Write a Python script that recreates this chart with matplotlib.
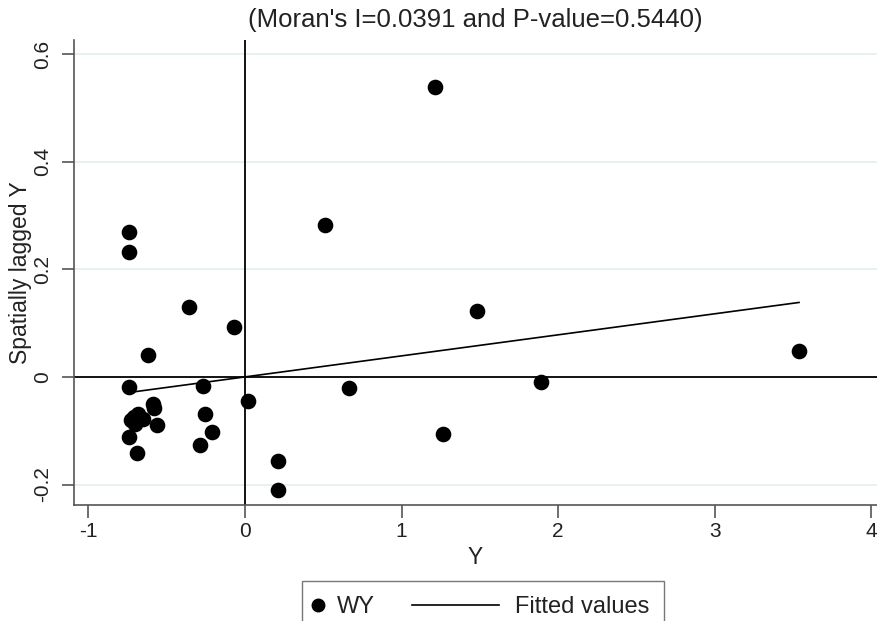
import matplotlib
matplotlib.use("Agg")
import matplotlib.pyplot as plt
from matplotlib.lines import Line2D
from matplotlib.legend_handler import HandlerBase
import numpy as np

plt.rcParams['font.family'] = ['Liberation Sans', 'DejaVu Sans']

# Moran scatterplot data (standardised Y and spatially lagged Y)
y_vals = [-0.356, -0.072, -0.619, -0.739, -0.266, 0.021, 0.666, -0.589,
          -0.581, -0.681, -0.730, -0.702, -0.649, -0.564, -0.253, -0.213,
          -0.739, -0.285, -0.687, 0.209, 0.209, 1.264, -0.739, -0.739,
          0.513, 1.213, 1.484, 1.888, 3.538, -0.712]
wy_vals = [0.129, 0.092, 0.041, -0.019, -0.017, -0.044, -0.021, -0.051,
           -0.058, -0.068, -0.080, -0.087, -0.078, -0.090, -0.068, -0.103,
           -0.111, -0.126, -0.142, -0.157, -0.210, -0.106, 0.269, 0.233,
           0.283, 0.538, 0.123, -0.010, 0.049, -0.074]
moran_i = 0.0391
p_value = 0.5440

x_ticks = [-1, 0, 1, 2, 3, 4]
y_ticks = [-0.2, 0, 0.2, 0.4, 0.6]
y_tick_labels = ['-0.2', '0', '0.2', '0.4', '0.6']


class DotHandler(HandlerBase):
    # legend key: dot sitting near the text
    def create_artists(self, legend, orig_handle, xdescent, ydescent,
                       width, height, fontsize, trans):
        y = height / 2 - ydescent
        dot = Line2D([-xdescent + 0.5], [y], marker='o', ms=9,
                     color='black', ls='none')
        dot.set_transform(trans)
        return [dot]


class LongLineHandler(HandlerBase):
    # legend key: long line reaching to the left of its handle box
    def create_artists(self, legend, orig_handle, xdescent, ydescent,
                       width, height, fontsize, trans):
        y = height / 2 - ydescent
        line = Line2D([-xdescent + width - 62.6, -xdescent + width], [y, y],
                      color='black', lw=1.2)
        line.set_transform(trans)
        return [line]


x = np.array(y_vals)
wy = np.array(wy_vals)
# fitted line: slope equals Moran's I
x_fit = np.array([x.min(), x.max()])
y_fit = moran_i * x_fit

fig = plt.figure(figsize=(8.77, 6.21), dpi=100)
ax = fig.add_axes([74 / 877, 116 / 621, 803 / 877, 465 / 621])

for t in y_ticks:
    if t != 0:
        ax.axhline(t, color='#e6eff1', lw=1.3, zorder=0)
ax.axhline(0, color='black', lw=1.3, zorder=1)
ax.axvline(0, color='black', lw=1.3, zorder=1)

sc = ax.scatter(x, wy, s=105, color='black', zorder=3, label='WY')
ln, = ax.plot(x_fit, y_fit, color='black', lw=1.2, zorder=2, label='Fitted values')

ax.set_xlim(-1.092, 4.036)
ax.set_ylim(-0.238, 0.626)
ax.set_xticks(x_ticks)
ax.set_yticks(y_ticks)
ax.set_xticklabels([str(v) for v in x_ticks])
ax.set_yticklabels(y_tick_labels, rotation=90, va='center')

for side in ['top', 'right']:
    ax.spines[side].set_visible(False)
for side in ['left', 'bottom']:
    ax.spines[side].set_color('#555555')
    ax.spines[side].set_linewidth(1.2)
ax.tick_params(axis='both', colors='#555555', length=9, width=1.2,
               labelsize=15, labelcolor='#222222')
ax.tick_params(axis='y', pad=7)
ax.tick_params(axis='x', pad=3)

ax.set_xlabel('Y', fontsize=16.5, color='#222222', labelpad=4)
ax.set_ylabel('Spatially lagged Y', fontsize=16.5, color='#222222', labelpad=0.5)
ax.set_title("(Moran's I={:.4f} and P-value={:.4f})".format(moran_i, p_value),
             fontsize=18.5, color='#222222', pad=9)

leg = fig.legend([sc, ln], ['WY', 'Fitted values'],
                 handler_map={sc: DotHandler(), ln: LongLineHandler()},
                 loc='upper left', bbox_to_anchor=(302 / 877, 1 - 581 / 621),
                 borderaxespad=0, ncol=2, frameon=True, fancybox=False,
                 edgecolor='#555555', fontsize=17, handlelength=0.17,
                 handletextpad=0.665, columnspacing=5.08, borderpad=0.65)
leg.get_frame().set_linewidth(1.0)
for txt in leg.get_texts():
    txt.set_color('#222222')

plt.savefig('out.png', dpi=100)
